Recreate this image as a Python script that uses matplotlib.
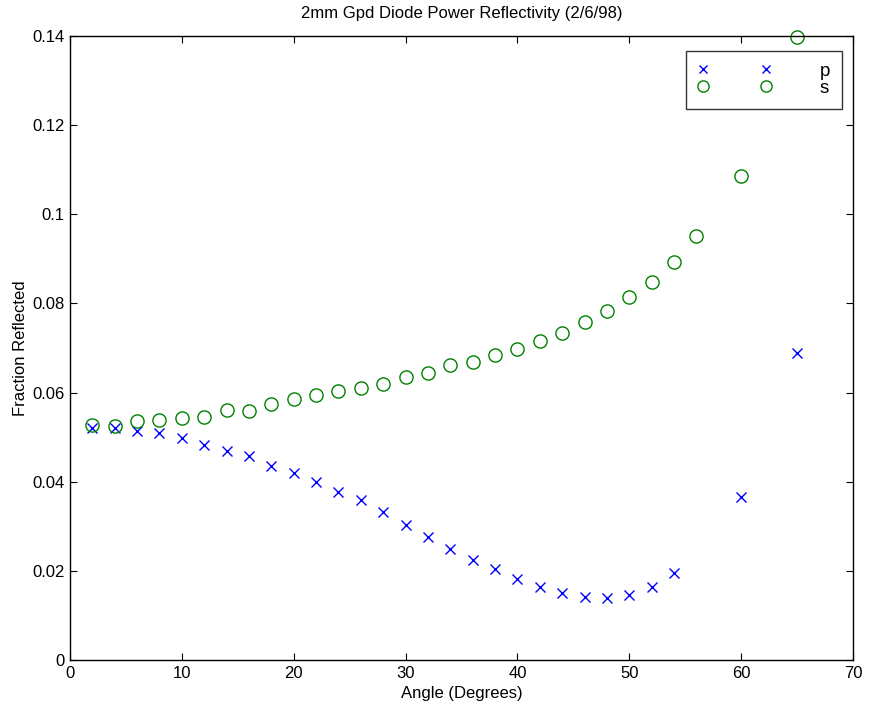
import matplotlib
matplotlib.use("Agg")
import matplotlib.pyplot as plt

angles = [2, 4, 6, 8, 10, 12, 14, 16, 18, 20, 22, 24, 26, 28, 30, 32, 34, 36,
          38, 40, 42, 44, 46, 48, 50, 52, 54, 56, 60, 65]
s_vals = [0.0527, 0.0526, 0.0536, 0.0539, 0.0543, 0.0546, 0.0561, 0.0558, 0.0575,
          0.0585, 0.0595, 0.0603, 0.0611, 0.0619, 0.0634, 0.0645, 0.0661, 0.0669,
          0.0684, 0.0697, 0.0716, 0.0734, 0.0759, 0.0784, 0.0814, 0.0847, 0.0894,
          0.0951, 0.1087, 0.1397]
p_angles = [2, 4, 6, 8, 10, 12, 14, 16, 18, 20, 22, 24, 26, 28, 30, 32, 34, 36,
            38, 40, 42, 44, 46, 48, 50, 52, 54, 60, 65]
p_vals = [0.0521, 0.0521, 0.0514, 0.0509, 0.0499, 0.0482, 0.0470, 0.0457, 0.0435,
          0.0420, 0.0400, 0.0376, 0.0359, 0.0332, 0.0304, 0.0275, 0.0248, 0.0225,
          0.0204, 0.0181, 0.0164, 0.0150, 0.0142, 0.0140, 0.0146, 0.0163, 0.0195,
          0.0366, 0.0689]
xticks = [0, 10, 20, 30, 40, 50, 60, 70]
yticks = [0, 0.02, 0.04, 0.06, 0.08, 0.1, 0.12, 0.14]
ytick_labels = ["0", "0.02", "0.04", "0.06", "0.08", "0.1", "0.12", "0.14"]

plt.rcParams['font.family'] = ['Liberation Sans', 'DejaVu Sans']

fig = plt.figure(figsize=(8.77, 7.08), dpi=100)
ax = fig.add_axes([70/877, 48/708, 783/877, 624/708])

ax.plot(p_angles, p_vals, linestyle='none', marker='x', color='#0000ff',
        markersize=6.5, markeredgewidth=1.0, label='p', clip_on=False)
ax.plot(angles, s_vals, linestyle='none', marker='o', markerfacecolor='none',
        markeredgecolor='#008000', markersize=9.5, markeredgewidth=1.0,
        label='s', clip_on=False)

ax.set_xlim(0, 70)
ax.set_ylim(0, 0.14)
ax.set_xticks(xticks)
ax.set_xticklabels([str(t) for t in xticks])
ax.set_yticks(yticks)
ax.set_yticklabels(ytick_labels)
ax.tick_params(direction='in', top=True, right=True, labelsize=12, length=5, pad=4)
for sp in ax.spines.values():
    sp.set_linewidth(1.0)

ax.set_xlabel('Angle (Degrees)', fontsize=12, labelpad=4)
ax.set_ylabel('Fraction Reflected', fontsize=12, labelpad=3)
ax.set_title('2mm Gpd Diode Power Reflectivity (2/6/98)', fontsize=12, pad=13)

leg = ax.legend(loc='upper right', bbox_to_anchor=((842 - 70) / 783, (660 - 51) / 624),
                bbox_transform=ax.transAxes, numpoints=2, handlelength=3.95,
                fontsize=13.5, frameon=True, fancybox=False, borderpad=0.62,
                labelspacing=0.0, handletextpad=2.6, borderaxespad=0,
                markerscale=0.85)
leg.get_frame().set_edgecolor('black')
leg.get_frame().set_linewidth(1.0)
fig.savefig('out.png', dpi=100)
